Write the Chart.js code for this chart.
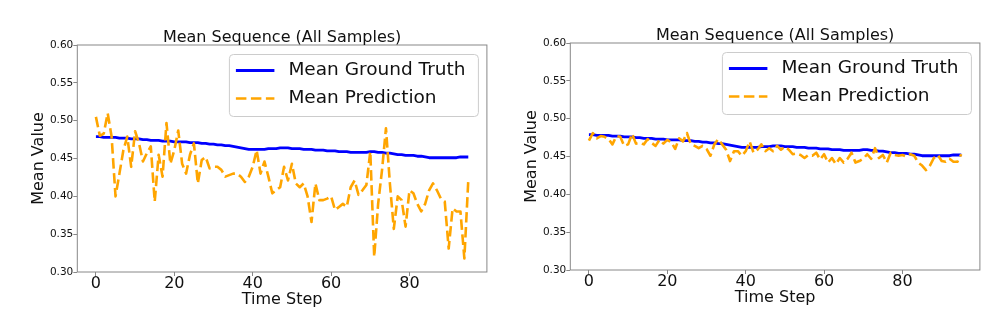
<!DOCTYPE html>
<html>
<head>
<meta charset="utf-8">
<title>Mean Sequence (All Samples)</title>
<script src="https://cdn.jsdelivr.net/npm/chart.js@4.4.0/dist/chart.umd.min.js"></script>
<style>
  html, body { margin: 0; padding: 0; background: #fff; }
  body { width: 995px; height: 320px; position: relative; overflow: hidden; }
  .panel { position: absolute; top: 0; width: 497px; height: 320px; }
  #leftPanel { left: 0; }
  #rightPanel { left: 493px; top: -2px; }
</style>
</head>
<body>
<div class="panel" id="leftPanel"><canvas id="leftChart" width="497" height="320"></canvas></div>
<div class="panel" id="rightPanel"><canvas id="rightChart" width="497" height="320"></canvas></div>
<script>
'use strict';

/* ---------- data ---------- */
const TITLE = 'Mean Sequence (All Samples)';
const X_TICKS = [0, 20, 40, 60, 80];
const Y_TICKS = [0.30, 0.35, 0.40, 0.45, 0.50, 0.55, 0.60];

// mean ground truth, time steps 0..95 (same in both panels)
const groundTruth = [
    0.479, 0.479, 0.478, 0.478, 0.478, 0.478, 0.477, 0.477, 0.477, 0.476,
    0.476, 0.476, 0.475, 0.475, 0.474, 0.474, 0.474, 0.473, 0.473, 0.473,
    0.472, 0.472, 0.472, 0.472, 0.471, 0.471, 0.471, 0.470, 0.470, 0.469,
    0.469, 0.468, 0.468, 0.467, 0.467, 0.466, 0.465, 0.464, 0.463, 0.462,
    0.462, 0.462, 0.462, 0.462, 0.463, 0.463, 0.463, 0.464, 0.464, 0.464,
    0.463, 0.463, 0.463, 0.462, 0.462, 0.462, 0.461, 0.461, 0.461, 0.460,
    0.460, 0.460, 0.459, 0.459, 0.459, 0.458, 0.458, 0.458, 0.458, 0.458,
    0.459, 0.459, 0.458, 0.458, 0.457, 0.457, 0.456, 0.455, 0.455, 0.454,
    0.454, 0.454, 0.453, 0.453, 0.452, 0.451, 0.451, 0.451, 0.451, 0.451,
    0.451, 0.451, 0.451, 0.452, 0.452, 0.452
];

// mean prediction, left panel
const predictionLeft = [
    0.505, 0.480, 0.483, 0.510, 0.479, 0.400, 0.430, 0.461, 0.479, 0.439,
    0.486, 0.470, 0.446, 0.457, 0.466, 0.393, 0.455, 0.426, 0.497, 0.443,
    0.461, 0.487, 0.443, 0.430, 0.455, 0.470, 0.417, 0.448, 0.452, 0.437,
    0.439, 0.439, 0.435, 0.426, 0.428, 0.430, 0.430, 0.426, 0.419, 0.426,
    0.439, 0.461, 0.430, 0.446, 0.426, 0.404, 0.408, 0.412, 0.439, 0.421,
    0.443, 0.417, 0.412, 0.417, 0.400, 0.366, 0.417, 0.395, 0.395, 0.397,
    0.400, 0.382, 0.386, 0.390, 0.386, 0.412, 0.421, 0.402, 0.408, 0.415,
    0.459, 0.320, 0.390, 0.435, 0.490, 0.417, 0.357, 0.400, 0.395, 0.360,
    0.408, 0.404, 0.390, 0.380, 0.390, 0.408, 0.417, 0.408, 0.397, 0.393,
    0.331, 0.384, 0.380, 0.380, 0.318, 0.421
];

// mean prediction, right panel
const predictionRight = [
    0.471, 0.481, 0.474, 0.477, 0.476, 0.473, 0.466, 0.477, 0.476, 0.464,
    0.466, 0.480, 0.467, 0.468, 0.466, 0.473, 0.468, 0.464, 0.472, 0.467,
    0.472, 0.469, 0.460, 0.474, 0.470, 0.481, 0.466, 0.464, 0.461, 0.464,
    0.460, 0.451, 0.466, 0.473, 0.466, 0.459, 0.444, 0.457, 0.457, 0.451,
    0.457, 0.470, 0.455, 0.459, 0.466, 0.457, 0.461, 0.457, 0.464, 0.459,
    0.463, 0.459, 0.453, 0.454, 0.452, 0.448, 0.452, 0.451, 0.455, 0.446,
    0.453, 0.442, 0.448, 0.440, 0.448, 0.442, 0.447, 0.455, 0.442, 0.444,
    0.447, 0.453, 0.447, 0.461, 0.448, 0.452, 0.442, 0.455, 0.452, 0.451,
    0.452, 0.450, 0.453, 0.451, 0.442, 0.438, 0.432, 0.438, 0.448, 0.452,
    0.444, 0.443, 0.447, 0.443, 0.443, 0.453
];

/* ---------- theme ---------- */
const FONT = "'DejaVu Sans', 'Liberation Sans', sans-serif";
const PALETTE = {
    truth: '#0000ff',
    pred: '#ffa500',
    spine: '#888888',
    text: '#111111',
    legendEdge: '#cccccc',
};

const toPoints = values => values.map((v, i) => ({ x: i, y: v }));

// matplotlib-style box around the plot area + title centred over it
const framePlugin = {
    id: 'frame',
    afterDatasetsDraw(chart) {
        const { ctx, chartArea: a } = chart;
        ctx.save();
        ctx.strokeStyle = PALETTE.spine;
        ctx.lineWidth = 1;
        ctx.strokeRect(a.left, a.top, a.right - a.left, a.bottom - a.top);

        ctx.fillStyle = PALETTE.text;
        ctx.font = `16px ${FONT}`;
        ctx.textAlign = 'center';
        ctx.textBaseline = 'alphabetic';
        ctx.fillText(TITLE, (a.left + a.right) / 2, a.top - 2.7);
        ctx.restore();
    },
};

// legend drawn inside the plot, upper right, like loc='upper right'
const boxLegendPlugin = {
    id: 'boxLegend',
    afterDraw(chart) {
        const { ctx, chartArea: a } = chart;
        const w = 249, h = 62;
        const x = a.right - 8.5 - w;
        const y = a.top + 9.5;
        ctx.save();
        ctx.beginPath();
        ctx.roundRect(x, y, w, h, 4);
        ctx.fillStyle = 'rgba(255,255,255,0.8)';
        ctx.fill();
        ctx.strokeStyle = PALETTE.legendEdge;
        ctx.lineWidth = 1;
        ctx.stroke();
        chart.data.datasets.forEach((ds, i) => {
            const cy = y + 16 + i * 28;
            ctx.beginPath();
            ctx.setLineDash(ds.borderDash || []);
            ctx.strokeStyle = ds.borderColor;
            ctx.lineWidth = ds.borderWidth;
            ctx.moveTo(x + 6.5, cy);
            ctx.lineTo(x + 45, cy);
            ctx.stroke();
            ctx.setLineDash([]);
            ctx.fillStyle = PALETTE.text;
            ctx.font = `18.5px ${FONT}`;
            ctx.textBaseline = 'middle';
            ctx.textAlign = 'left';
            ctx.fillText(ds.label, x + 59, cy);
        });
        ctx.restore();
    },
};

function makeChart(canvasId, prediction) {
    const ctx = document.getElementById(canvasId).getContext('2d');
    return new Chart(ctx, {
        type: 'line',
        data: {
            datasets: [{
                label: 'Mean Ground Truth',
                data: toPoints(groundTruth),
                borderColor: PALETTE.truth,
                borderWidth: 2.8,
                pointRadius: 0,
                tension: 0,
                borderJoinStyle: 'round',
                order: 1,
            }, {
                label: 'Mean Prediction',
                data: toPoints(prediction),
                borderColor: PALETTE.pred,
                borderWidth: 2.6,
                borderDash: [10.5, 4.5],
                pointRadius: 0,
                tension: 0,
                borderJoinStyle: 'round',
                order: 0,
            }],
        },
        options: {
            responsive: false,
            animation: false,
            devicePixelRatio: 1,
            layout: { padding: { left: 0, right: 10.1, top: 45, bottom: 0 } },
            plugins: {
                legend: { display: false },
                tooltip: { enabled: false },
                title: { display: false },
            },
            scales: {
                x: {
                    type: 'linear',
                    min: -4.75,
                    max: 99.75,
                    afterBuildTicks: s => { s.ticks = X_TICKS.map(v => ({ value: v })); },
                    afterFit: s => { s.height = 48; },
                    ticks: {
                        color: PALETTE.text,
                        font: { family: FONT, size: 16, lineHeight: 1 },
                        padding: 0,
                        maxRotation: 0,
                    },
                    grid: { drawOnChartArea: false, drawTicks: true, tickLength: 4, color: PALETTE.spine },
                    border: { display: false },
                    title: {
                        display: true,
                        text: 'Time Step',
                        color: PALETTE.text,
                        font: { family: FONT, size: 16 },
                        padding: { top: 0, bottom: 10.9 },
                    },
                },
                y: {
                    min: 0.3,
                    max: 0.6,
                    afterBuildTicks: s => { s.ticks = Y_TICKS.map(v => ({ value: v })); },
                    afterFit: s => { s.width = 77.3; },
                    ticks: {
                        color: PALETTE.text,
                        font: { family: FONT, size: 10.5 },
                        padding: 0,
                        callback: v => v.toFixed(2),
                    },
                    grid: { drawOnChartArea: false, drawTicks: true, tickLength: 4, color: PALETTE.spine },
                    border: { display: false },
                    title: {
                        display: true,
                        text: 'Mean Value',
                        color: PALETTE.text,
                        font: { family: FONT, size: 16 },
                        padding: { top: 29.4, bottom: 0 },
                    },
                },
            },
        },
        plugins: [framePlugin, boxLegendPlugin],
    });
}

makeChart('leftChart', predictionLeft);
makeChart('rightChart', predictionRight);
</script>
</body>
</html>
